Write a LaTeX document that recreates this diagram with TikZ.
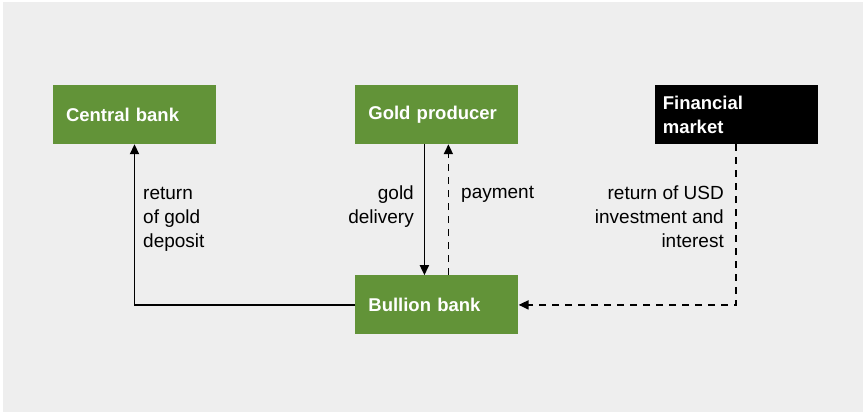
\documentclass[tikz,border=0pt]{standalone}
\usepackage{fontspec}
\setmainfont{Liberation Sans}
\usepackage{xcolor}
\usetikzlibrary{arrows.meta,positioning}

\definecolor{bggray}{HTML}{EEEEEE}
\definecolor{boxgreen}{HTML}{629338}

\begin{document}
\begin{tikzpicture}[
  x=1pt, y=-1pt,
  node distance=131pt and 139pt,
  box/.style={minimum width=163pt, minimum height=59pt, text width=137pt,
    inner sep=0pt, align=left, text=white,
    font=\bfseries\fontsize{18.5}{24}\selectfont},
  greenbox/.style={box, fill=boxgreen},
  blackbox/.style={box, fill=black, text width=147pt},
  lbl/.style={inner sep=0pt, font=\fontsize{19}{24}\selectfont},
  arr/.style={-{Triangle[length=10pt,width=9pt]}, line width=1.8pt},
  dasharr/.style={arr, dash pattern=on 7pt off 6pt}
]
  \fill[white] (0,0) rectangle (866,414);
  \fill[bggray] (3,2) rectangle (863,412);

  \node[greenbox] (central) at (134.5,114.5) {Central bank};
  \node[greenbox, right=139pt of central] (producer) {Gold producer};
  \node[blackbox, right=136pt of producer] (market) {Financial\\market};
  \node[greenbox, below=131pt of producer] (bullion) {Bullion bank};

  \draw[arr] (bullion.west) -| (central.south);
  \draw[arr] ([xshift=-12.5pt]producer.south) -- ([xshift=-12.5pt]bullion.north);
  \draw[dasharr] ([xshift=11.5pt]bullion.north) -- ([xshift=11.5pt]producer.south);
  \draw[dasharr] (market.south) |- (bullion.east);

  \node[lbl, align=left, anchor=north west] (depositlbl) at (143,187)
    {return\\of gold\\deposit};
  \node[lbl, align=right, anchor=north east] (deliverylbl) at (414,186)
    {gold\\delivery};
  \node[lbl, align=left, anchor=north west] (paymentlbl) at (461,186)
    {payment};
  \node[lbl, align=right, anchor=north east] (returnlbl) at (724,186)
    {return of USD\\investment and\\interest};
\end{tikzpicture}
\end{document}
